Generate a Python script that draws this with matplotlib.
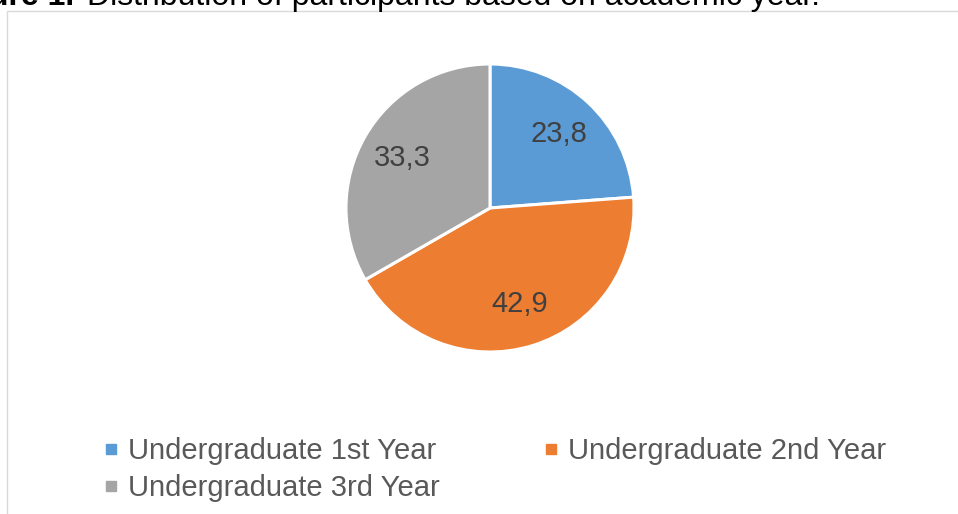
import matplotlib
matplotlib.use("Agg")
import matplotlib.pyplot as plt
from matplotlib.lines import Line2D
from matplotlib.patches import Rectangle
import numpy as np

categories = ["Undergraduate 1st Year", "Undergraduate 2nd Year", "Undergraduate 3rd Year"]
values = [23.8, 42.9, 33.3]
value_labels = ["23,8", "42,9", "33,3"]
colors = ["#5B9BD5", "#ED7D31", "#A5A5A5"]
title_bold = "Figure 1."
title_rest = "Distribution of participants based on academic year."

W, H = 958, 514
plt.rcParams['font.family'] = ['Liberation Sans', 'DejaVu Sans']
fig = plt.figure(figsize=(W / 100, H / 100), dpi=100)
ax = fig.add_axes([0, 0, 1, 1])
ax.set_xlim(0, W)
ax.set_ylim(0, H)
ax.set_aspect('equal')
ax.axis('off')

# chart area border
ax.add_patch(Rectangle((7.5, -20), W + 20, H - 10.5 + 20, fill=False,
                       edgecolor="#D9D9D9", linewidth=1.0))

cx, cy, r = 490, H - 208, 144
wedges, _ = ax.pie(values, colors=colors, startangle=90, counterclock=False,
                   center=(cx, cy), radius=r,
                   wedgeprops=dict(edgecolor="white", linewidth=2.2))
ax.set_xlim(0, W)
ax.set_ylim(0, H)

for w, lab in zip(wedges, value_labels):
    ang = np.deg2rad((w.theta1 + w.theta2) / 2)
    x = cx + 0.7 * r * np.cos(ang)
    y = cy + 0.7 * r * np.sin(ang)
    ax.text(x, y, lab, ha="center", va="center", fontsize=21, color="#404040")

# title (cut off at top as in reference)
fig.text(74 / W, 1 - 5 / H, title_bold, ha="right", va="baseline",
         fontsize=23, fontweight="bold", color="#000000")
fig.text(87 / W, 1 - 5 / H, title_rest, ha="left", va="baseline",
         fontsize=23, color="#000000")

# legend laid out row by row (1st, 2nd / 3rd)
order = [0, 2, 1]
handles = [Line2D([], [], marker='s', linestyle='none', markersize=7,
                  markerfacecolor=colors[i], markeredgecolor=colors[i]) for i in order]
labels = [categories[i] for i in order]
leg = ax.legend(handles, labels, loc="upper left",
                bbox_to_anchor=(105 / W, 1 - 437 / H), bbox_transform=fig.transFigure,
                ncol=2, frameon=False, fontsize=21, handlelength=0.4,
                handletextpad=0.4, columnspacing=3.6, labelspacing=0.32,
                borderpad=0, borderaxespad=0)
for t in leg.get_texts():
    t.set_color("#595959")

fig.savefig("out.png", dpi=100)
